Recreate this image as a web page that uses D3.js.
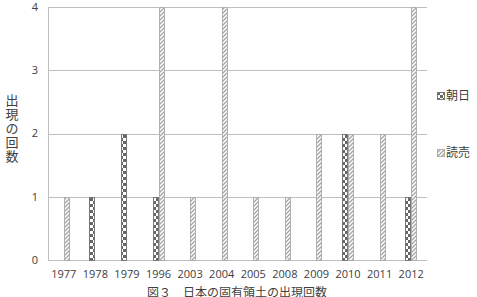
<html>
<head>
<meta charset="utf-8">
<script src="https://d3js.org/d3.v7.min.js"></script>
<style>
  body { margin: 0; background: #fff; }
  text { font-family: "Open Sans", "Noto Sans", sans-serif; fill: #404040; }
  .jp { font-family: "Noto Sans CJK JP", sans-serif; }
</style>
</head>
<body>
<svg></svg>
<script>
  // year categories and counts per newspaper
  var years = ["1977","1978","1979","1996","2003","2004","2005","2008","2009","2010","2011","2012"];
  var series = ["朝日", "読売"];
  var asahi = [0, 1, 2, 1, 0, 0, 0, 0, 0, 2, 0, 1];
  var yomiuri = [1, 0, 0, 4, 1, 4, 1, 1, 2, 2, 2, 4];
  var yTicks = [0, 1, 2, 3, 4];

  var width = 477, height = 297;
  var margin = {left: 48, right: 50, top: 7, bottom: 37};

  var svg = d3.select("svg").attr("width", width).attr("height", height);

  var defs = svg.append("defs");
  // checker pattern for 朝日
  var pc = defs.append("pattern").attr("id", "checker")
    .attr("patternUnits", "userSpaceOnUse").attr("width", 6).attr("height", 6);
  pc.append("rect").attr("width", 6).attr("height", 6).attr("fill", "#fff");
  pc.append("rect").attr("x", 0).attr("y", 0).attr("width", 3).attr("height", 3).attr("fill", "#666");
  pc.append("rect").attr("x", 3).attr("y", 3).attr("width", 3).attr("height", 3).attr("fill", "#666");
  // diagonal hatch for 読売
  var ph = defs.append("pattern").attr("id", "hatch")
    .attr("patternUnits", "userSpaceOnUse").attr("width", 4).attr("height", 4);
  ph.append("rect").attr("width", 4).attr("height", 4).attr("fill", "#fff");
  ph.append("path").attr("d", "M-1,1 l2,-2 M0,4 l4,-4 M3,5 l2,-2")
    .attr("stroke", "#a6a6a6").attr("stroke-width", 1.3);

  var fills = {"朝日": "url(#checker)", "読売": "url(#hatch)"};
  var strokes = {"朝日": "#777", "読売": "#b0b0b0"};

  var x0 = d3.scaleBand().domain(years).range([margin.left, width - margin.right]);
  var barW = 6;
  var x1 = d3.scaleBand().domain(series)
    .range([x0.bandwidth() / 2 - barW, x0.bandwidth() / 2 + barW]);
  var y = d3.scaleLinear().domain([0, 4]).range([height - margin.bottom, margin.top]);

  // gridlines
  svg.append("g").selectAll("line").data(yTicks).enter().append("line")
    .attr("x1", margin.left).attr("x2", width - margin.right)
    .attr("y1", function(d){ return Math.round(y(d)) + 0.5; })
    .attr("y2", function(d){ return Math.round(y(d)) + 0.5; })
    .attr("stroke", "#bfbfbf").attr("stroke-width", 1);
  svg.append("line")
    .attr("x1", margin.left + 0.5).attr("x2", margin.left + 0.5)
    .attr("y1", y(4)).attr("y2", y(0))
    .attr("stroke", "#bfbfbf");

  // y axis labels
  svg.append("g").selectAll("text").data(yTicks).enter().append("text")
    .attr("x", margin.left - 10).attr("y", function(d){ return y(d); })
    .attr("dy", "0.35em").attr("text-anchor", "end")
    .attr("font-size", 11).text(function(d){ return d; });

  // x axis labels
  svg.append("g").selectAll("text").data(years).enter().append("text")
    .attr("x", function(d){ return x0(d) + x0.bandwidth() / 2; })
    .attr("y", height - margin.bottom + 18)
    .attr("text-anchor", "middle").attr("font-size", 11)
    .text(function(d){ return d; });

  // bars
  var rows = [];
  years.forEach(function(yr, i){
    rows.push({year: yr, s: "朝日", v: asahi[i]});
    rows.push({year: yr, s: "読売", v: yomiuri[i]});
  });
  svg.append("g").selectAll("rect").data(rows.filter(function(d){ return d.v > 0; }))
    .enter().append("rect")
      .attr("x", function(d){ return Math.round(x0(d.year) + x1(d.s)) + 0.5; })
      .attr("width", barW - 1)
      .attr("y", function(d){ return Math.round(y(d.v)) + 0.5; })
      .attr("height", function(d){ return Math.round(y(0)) - Math.round(y(d.v)); })
      .attr("fill", function(d){ return fills[d.s]; })
      .attr("stroke", function(d){ return strokes[d.s]; });

  // legend
  var leg = svg.append("g").selectAll("g").data(series).enter().append("g")
    .attr("transform", function(d, i){ return "translate(437," + (92 + i * 57) + ")"; });
  leg.append("rect").attr("x", 0.5).attr("y", 0.5).attr("width", 7).attr("height", 7)
    .attr("fill", function(d){ return fills[d]; })
    .attr("stroke", function(d){ return strokes[d]; });
  leg.append("text").attr("class", "jp").attr("x", 9).attr("y", 4)
    .attr("dy", "0.36em").attr("font-size", 12).text(function(d){ return d; });

  // y title (vertical)
  var yt = svg.append("text").attr("class", "jp").attr("font-size", 13)
    .attr("text-anchor", "middle");
  "出現の回数".split("").forEach(function(c, i){
    yt.append("tspan").attr("x", 12).attr("y", 105 + i * 14).text(c);
  });

  // caption
  svg.append("text").attr("class", "jp").attr("x", 237).attr("y", 297)
    .attr("text-anchor", "middle").attr("font-size", 12)
    .text("図３　日本の固有領土の出現回数");
</script>
</body>
</html>
